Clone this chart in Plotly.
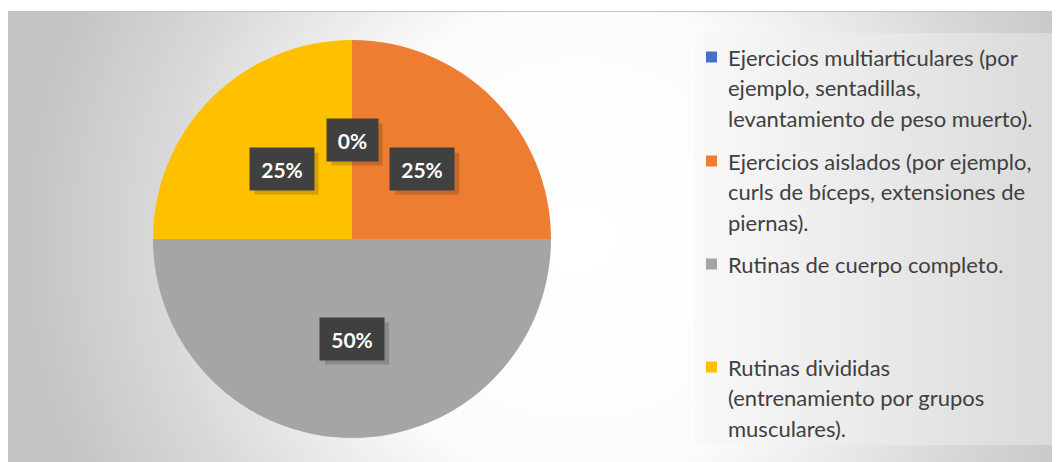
import base64
import math
import plotly.graph_objects as go

# ---- data ----
categories = [
    "Ejercicios multiarticulares (por<br>ejemplo, sentadillas,<br>levantamiento de peso muerto).",
    "Ejercicios aislados (por ejemplo,<br>curls de bíceps, extensiones de<br>piernas).",
    "Rutinas de cuerpo completo.",
    "Rutinas divididas<br>(entrenamiento por grupos<br>musculares).",
]
values = [0, 25, 50, 25]
colors = ["#4472C4", "#ED7D31", "#A5A5A5", "#FFC000"]

# page offset (browser body margin) and figure size
OX, OY = 8, 8
W, H = 1052, 454


def px2paper(x, y):
    return (x - OX) / W, 1 - (y - OY) / H


# pie placement in page pixels
cx, cy, R = 352, 239, 199

# ---- background (frame with radial gradient + legend panel), in figure pixels ----
svg = f'''<svg xmlns="http://www.w3.org/2000/svg" width="{W}" height="{H}" viewBox="0 0 {W} {H}">
<defs>
<radialGradient id="bg" gradientUnits="userSpaceOnUse" cx="{580-OX}" cy="{240-OY}" r="560">
<stop offset="0" stop-color="#ffffff"/>
<stop offset="0.42" stop-color="#fcfcfc"/>
<stop offset="0.75" stop-color="#d9d9d9"/>
<stop offset="1" stop-color="#c3c3c3"/>
</radialGradient>
<linearGradient id="lg" x1="0" y1="0" x2="1" y2="0">
<stop offset="0" stop-color="#f9f9f9"/>
<stop offset="1" stop-color="#dadada"/>
</linearGradient>
</defs>
<rect width="{W}" height="{H}" fill="#ffffff"/>
<rect x="0.5" y="{11.5-OY}" width="1070" height="470" fill="url(#bg)" stroke="#c4c4c4" stroke-width="1"/>
<rect x="{695-OX}" y="{33-OY}" width="357" height="412" fill="url(#lg)"/>
</svg>'''
svg_uri = "data:image/svg+xml;base64," + base64.b64encode(svg.encode()).decode()

fig = go.Figure()
x0p, y1p = px2paper(cx - R, cy - R)
x1p, y0p = px2paper(cx + R, cy + R)
fig.add_trace(go.Pie(
    labels=[c.replace("<br>", " ") for c in categories],
    values=values,
    marker=dict(colors=colors, line=dict(width=0)),
    sort=False,
    direction="clockwise",
    rotation=0,
    textinfo="none",
    hoverinfo="label+percent",
    showlegend=False,
    domain=dict(x=[x0p, x1p], y=[y0p, y1p]),
))

annotations = []
shapes = []

# ---- data labels ----
total = sum(values)
start = 0.0
for v in values:
    frac = v / total
    mid = (start + frac / 2) * 2 * math.pi
    start += frac
    px = cx + 0.5 * R * math.sin(mid)
    py = cy - 0.5 * R * math.cos(mid)
    txt = f"{round(100 * frac)}%"
    tw = 13 * len(txt) + 7
    bw, bh = tw + 18, 42
    # shadow box
    sx0, sy1 = px2paper(px - bw / 2 + 5, py - bh / 2 + 5)
    sx1, sy0 = px2paper(px + bw / 2 + 5, py + bh / 2 + 5)
    shapes.append(dict(type="rect", xref="paper", yref="paper", x0=sx0, x1=sx1, y0=sy0, y1=sy1,
                       fillcolor="rgba(0,0,0,0.16)", line=dict(width=0), layer="above"))
    ax, ay = px2paper(px, py)
    annotations.append(dict(text=f"<b>{txt}</b>", x=ax, y=ay, xref="paper", yref="paper",
                            showarrow=False, width=tw, height=24, borderpad=9,
                            xanchor="center", yanchor="middle",
                            font=dict(family="Lato", size=21, color="#ffffff"),
                            bgcolor="#404040"))

# ---- legend (manual) ----
entry_top = [57, 161, 264, 367]
line_h = 30.5
for i, (cat, col) in enumerate(zip(categories, colors)):
    y0 = entry_top[i]
    mx0, my1 = px2paper(706, y0 - 5.5)
    mx1, my0 = px2paper(717, y0 + 5.5)
    shapes.append(dict(type="rect", xref="paper", yref="paper",
                       x0=mx0, x1=mx1, y0=my0, y1=my1,
                       fillcolor=col, line=dict(width=0)))
    for j, line in enumerate(cat.split("<br>")):
        tx, ty = px2paper(726, y0 + j * line_h)
        annotations.append(dict(text=line, x=tx, y=ty,
                                xref="paper", yref="paper", showarrow=False,
                                xanchor="left", yanchor="middle",
                                font=dict(family="Lato", size=22, color="#404040")))

fig.update_layout(
    width=W, height=H,
    margin=dict(l=0, r=0, t=0, b=0),
    paper_bgcolor="#ffffff",
    plot_bgcolor="rgba(0,0,0,0)",
    images=[dict(source=svg_uri, xref="paper", yref="paper", x=0, y=1, sizex=1, sizey=1,
                 xanchor="left", yanchor="top", sizing="stretch", layer="below")],
    annotations=annotations,
    shapes=shapes,
)

fig.write_html("out.html")
